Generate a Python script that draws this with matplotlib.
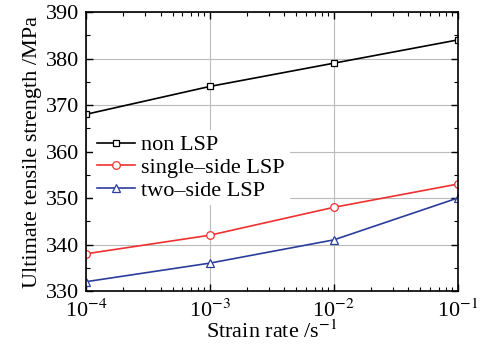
import matplotlib
matplotlib.use("Agg")
from matplotlib import pyplot as plt
from matplotlib.ticker import LogLocator, FixedLocator, NullFormatter

### Data ###
strain_rate = [1e-4, 1e-3, 1e-2, 1e-1]
non_lsp = [368, 374, 379, 384]
single_lsp = [338, 342, 348, 353]
two_lsp = [332, 336, 341, 350]
x_ticks = [1e-4, 1e-3, 1e-2, 1e-1]
x_ticklabels = ['10$^{-4}$', '10$^{-3}$', '10$^{-2}$', '10$^{-1}$']
y_ticks = [330, 340, 350, 360, 370, 380, 390]
############

plt.rcParams['font.family'] = ['Liberation Serif', 'DejaVu Serif']
plt.rcParams['mathtext.fontset'] = 'stix'
plt.rcParams['font.size'] = 16

fig = plt.figure(figsize=(4.88, 3.44), dpi=100)
ax = fig.add_axes([0.176, 0.154, 0.762, 0.811])

ax.plot(strain_rate, non_lsp, color='black', lw=1.2, marker='s', ms=5,
        mfc='white', mew=0.9, label='non LSP')
ax.plot(strain_rate, single_lsp, color='#f03030', lw=1.2, marker='o', ms=5.5,
        mfc='white', mew=0.9, label='single\u2013side LSP')
ax.plot(strain_rate, two_lsp, color='#2b3d9c', lw=1.2, marker='^', ms=5.5,
        mfc='white', mew=0.9, label='two\u2013side LSP')

ax.set_xscale('log')
ax.set_xlim(1e-4, 1e-1)
ax.set_ylim(330, 390)
ax.set_xticks(x_ticks)
ax.set_xticklabels(x_ticklabels)
ax.xaxis.set_minor_locator(LogLocator(base=10, subs=range(2, 10)))
ax.xaxis.set_minor_formatter(NullFormatter())
ax.set_yticks(y_ticks)
ax.yaxis.set_minor_locator(FixedLocator([335, 345, 355, 365, 375, 385]))

ax.grid(True, which='major', color='#bbbbbb', lw=0.8)
ax.set_axisbelow(True)
ax.tick_params(which='both', direction='in', top=True, right=True)
ax.tick_params(which='major', length=5, width=1)
ax.tick_params(which='minor', length=3, width=0.8)
ax.tick_params(axis='x', pad=6)
ax.tick_params(axis='y', pad=5)
for s in ax.spines.values():
    s.set_linewidth(1.2)

ax.set_xlabel('Strain rate /s$^{-1}$', labelpad=-1)
ax.set_ylabel('Ultimate tensile strength /MPa', labelpad=3)

leg = ax.legend(loc='upper left', bbox_to_anchor=(0.0, 0.6), frameon=True,
                fancybox=False, edgecolor='none', framealpha=1,
                handlelength=1.7, handletextpad=0.3, labelspacing=0.1,
                borderaxespad=0.3, borderpad=0.2)

plt.savefig('out.png', dpi=100)
